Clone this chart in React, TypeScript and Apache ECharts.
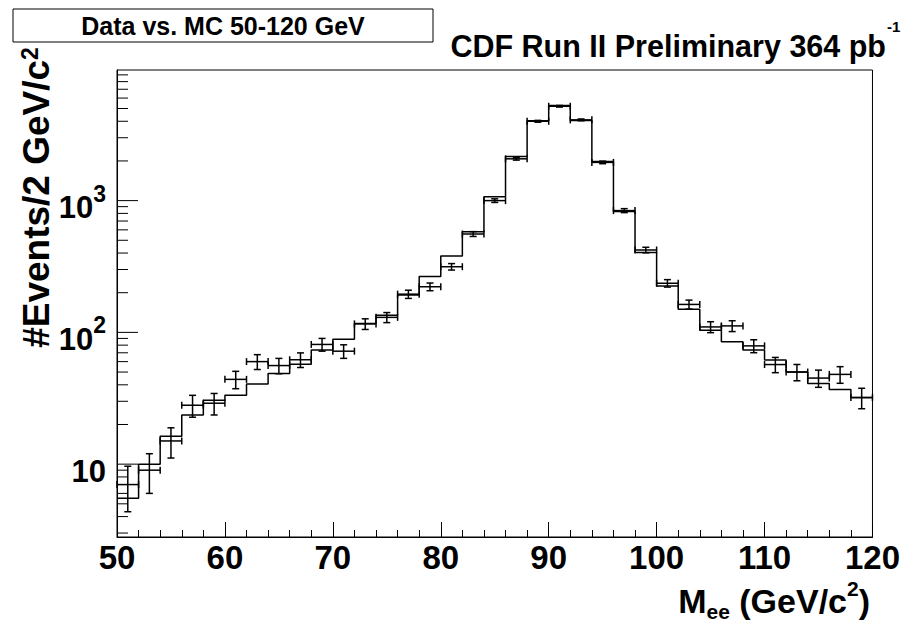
import React, { useEffect, useRef } from 'react';
import * as echarts from 'echarts';

// ---- data (2 GeV bins, 50-120 GeV) ----
const BIN_WIDTH = 2;
const binLowEdges = [50, 52, 54, 56, 58, 60, 62, 64, 66, 68, 70, 72, 74, 76, 78, 80, 82, 84, 86, 88, 90, 92, 94, 96, 98, 100, 102, 104, 106, 108, 110, 112, 114, 116, 118];
const mcCounts = [5.5, 10, 16.3, 23.6, 30.6, 33.4, 40.5, 48.8, 57.4, 73.5, 88.5, 117, 135, 192, 265, 380, 581, 1072, 2158, 4036, 5270, 4050, 1980, 825, 403, 225, 150, 104, 85, 73.5, 61.7, 50, 41, 36.9, 32];
const dataCounts = [7, 9, 15, 28, 29, 44, 60, 56, 62, 81, 72, 116, 130, 195, 222, 315, 558, 1000, 2075, 4000, 5200, 4100, 1950, 840, 422, 236, 163, 110, 112, 79, 57, 50, 45, 48, 32];

const X_MIN = 50;
const X_MAX = 120;
const Y_MIN = 2.8;
const Y_MAX = 9800;

const TITLE = 'Data vs. MC 50-120 GeV';
const EXPERIMENT = 'CDF Run II Preliminary 364 pb';
const LUMI_EXP = '-1';
const Y_TITLE = '#Events/2 GeV/c';
const Y_TITLE_EXP = '2';
const X_TITLE_M = 'M';
const X_TITLE_SUB = 'ee';
const X_TITLE_UNIT = ' (GeV/c';
const X_TITLE_EXP = '2';
const X_TITLE_END = ')';

const FONT = '"Liberation Sans", Arial, Helvetica, sans-serif';

let measureCtx: CanvasRenderingContext2D | null = null;
function textWidth(text: string, size: number) {
  if (!measureCtx) measureCtx = document.createElement('canvas').getContext('2d');
  measureCtx!.font = 'bold ' + size + 'px ' + FONT;
  return measureCtx!.measureText(text).width;
}

function txt(text: string, x: number, y: number, size: number, align: string, lineHeight?: number) {
  return {
    type: 'text',
    x,
    y,
    style: {
      text,
      fontSize: size,
      fontWeight: 'bold',
      fontFamily: FONT,
      fill: '#000',
      align,
      verticalAlign: 'middle',
      lineHeight: lineHeight || size,
    },
  };
}

function buildOption() {
  const black = '#000';

  // MC histogram as a stepped outline
  const histLine: number[][] = [];
  binLowEdges.forEach((lo, i) => {
    histLine.push([lo, mcCounts[i]]);
    histLine.push([lo + BIN_WIDTH, mcCounts[i]]);
  });

  // data with Poisson errors
  const dataPoints = binLowEdges.map((lo, i) => [lo, lo + BIN_WIDTH, dataCounts[i], Math.sqrt(dataCounts[i])]);

  // log-axis ticks: majors at decades, minors at 2..9 x decade
  const yTicks: number[][] = [];
  for (let e = 0; e <= 3; e++) {
    for (let k = 1; k <= 9; k++) {
      const v = k * Math.pow(10, e);
      if (v >= Y_MIN && v <= Y_MAX) yTicks.push([X_MIN, v, k === 1 ? 1 : 0]);
    }
  }

  // x-axis title pieces laid out right to left
  const XT_MAIN = 34, XT_SUB = 21, XT_SUP = 21;
  const xtRight = 870;
  const xParen = xtRight - textWidth(X_TITLE_END, XT_MAIN);
  const xSup = xParen - textWidth(X_TITLE_EXP, XT_SUP);
  const xUnit = xSup - textWidth(X_TITLE_UNIT, XT_MAIN);
  const xSub = xUnit - textWidth(X_TITLE_SUB, XT_SUB);
  const xM = xSub - textWidth(X_TITLE_M, XT_MAIN);
  const yMain = 601.2, ySub = 611.7, ySupC = 588.2;

  // top-right label
  const TR_MAIN = 30.5, TR_SUP = 15;
  const trMainRight = 886;

  return {
    animation: false,
    backgroundColor: '#fff',
    grid: {
      left: 117,
      top: 70,
      right: 30,
      bottom: 87,
      show: true,
      borderColor: black,
      borderWidth: 1,
      backgroundColor: 'transparent',
    },
    xAxis: {
      type: 'value',
      min: X_MIN,
      max: X_MAX,
      interval: 10,
      axisLine: { show: true, onZero: false, lineStyle: { color: black, width: 1 } },
      axisTick: { show: true, inside: true, length: 15, lineStyle: { color: black, width: 1 } },
      minorTick: { show: true, splitNumber: 5, length: 7, lineStyle: { color: black, width: 1 } },
      splitLine: { show: false },
      axisLabel: { color: black, fontSize: 33, lineHeight: 26, fontWeight: 'bold', fontFamily: FONT, margin: 7.5 },
    },
    yAxis: {
      type: 'log',
      logBase: 10,
      min: Y_MIN,
      max: Y_MAX,
      axisLine: { show: true, lineStyle: { color: black, width: 1 } },
      axisTick: { show: false },
      minorTick: { show: false },
      splitLine: { show: false },
      axisLabel: {
        margin: 11,
        padding: [0, 0, 6, 0],
        formatter: (v: number) => {
          const l = Math.log10(v);
          const e = Math.round(l);
          if (Math.abs(l - e) > 1e-6) return '';
          if (e === 1) return '{m|10}';
          return '{m|10}{s|' + e + '}';
        },
        rich: {
          m: { fontSize: 31, lineHeight: 31, fontWeight: 'bold', fontFamily: FONT, color: black, padding: [10, 0, 0, 0], verticalAlign: 'top' },
          s: { fontSize: 23, lineHeight: 23, fontWeight: 'bold', fontFamily: FONT, color: black, verticalAlign: 'top' },
        },
      },
    },
    graphic: [
      {
        type: 'rect',
        shape: { x: 13, y: 9, width: 420, height: 33 },
        style: { fill: '#fff', stroke: black, lineWidth: 1 },
      },
      txt(TITLE, 223, 25.5, 25, 'center'),
      txt(EXPERIMENT, trMainRight, 45.6, TR_MAIN, 'right', 26),
      txt(LUMI_EXP, trMainRight + 1, 26.5, TR_SUP, 'left', 13),
      {
        type: 'text',
        x: 18,
        y: 197.5,
        rotation: Math.PI / 2,
        style: {
          text: '{m|' + Y_TITLE + '}{s|' + Y_TITLE_EXP + '}',
          align: 'center',
          verticalAlign: 'top',
          fill: black,
          rich: {
            m: { fontSize: 37, lineHeight: 37, fontWeight: 'bold', fontFamily: FONT, fill: black, verticalAlign: 'top' },
            s: { fontSize: 23, lineHeight: 23, fontWeight: 'bold', fontFamily: FONT, fill: black, verticalAlign: 'top' },
          },
        },
      },
      txt(X_TITLE_M, xM, yMain, XT_MAIN, 'left', 28),
      txt(X_TITLE_SUB, xSub, ySub, XT_SUB, 'left', 16),
      txt(X_TITLE_UNIT, xUnit, yMain, XT_MAIN, 'left', 28),
      txt(X_TITLE_EXP, xSup, ySupC, XT_SUP, 'left', 16),
      txt(X_TITLE_END, xParen, yMain, XT_MAIN, 'left', 28),
    ],
    series: [
      {
        name: 'MC',
        type: 'line',
        data: histLine,
        showSymbol: false,
        symbol: 'none',
        clip: true,
        lineStyle: { color: black, width: 1.5 },
        z: 3,
      },
      {
        name: 'Data',
        type: 'custom',
        data: dataPoints,
        encode: { x: [0, 1], y: 2 },
        z: 4,
        renderItem: (params: any, api: any) => {
          const lo = api.value(0);
          const hi = api.value(1);
          const v = api.value(2);
          const e = api.value(3);
          const mid = (lo + hi) / 2;
          const pL = api.coord([lo, v]);
          const pR = api.coord([hi, v]);
          const pT = api.coord([mid, v + e]);
          const pB = api.coord([mid, Math.max(v - e, Y_MIN)]);
          const cap = 3.5;
          const st = { stroke: black, lineWidth: 1.5 };
          const ln = (x1: number, y1: number, x2: number, y2: number) => ({
            type: 'line',
            shape: { x1, y1, x2, y2 },
            style: st,
          });
          return {
            type: 'group',
            children: [
              ln(pL[0], pL[1], pR[0], pR[1]),
              ln(pT[0], pT[1], pB[0], pB[1]),
              ln(pT[0] - cap, pT[1], pT[0] + cap, pT[1]),
              ln(pB[0] - cap, pB[1], pB[0] + cap, pB[1]),
              ln(pL[0], pL[1] - cap, pL[0], pL[1] + cap),
              ln(pR[0], pR[1] - cap, pR[0], pR[1] + cap),
            ],
          };
        },
      },
      {
        name: 'yTicks',
        type: 'custom',
        data: yTicks,
        encode: { x: 0, y: 1 },
        silent: true,
        z: 5,
        renderItem: (params: any, api: any) => {
          const p = api.coord([api.value(0), api.value(1)]);
          const len = api.value(2) === 1 ? 21 : 11;
          return {
            type: 'line',
            shape: { x1: p[0], y1: p[1], x2: p[0] + len, y2: p[1] },
            style: { stroke: black, lineWidth: 1 },
          };
        },
      },
    ],
  };
}

export default function App() {
  const ref = useRef<HTMLDivElement>(null);
  useEffect(() => {
    if (!ref.current) return;
    const chart = echarts.init(ref.current, null, { renderer: 'svg' });
    chart.setOption(buildOption() as any);
    return () => {
      chart.dispose();
    };
  }, []);
  return (
    <div
      ref={ref}
      style={{ position: 'fixed', left: 0, top: 0, width: 903, height: 624, background: '#fff' }}
    />
  );
}
